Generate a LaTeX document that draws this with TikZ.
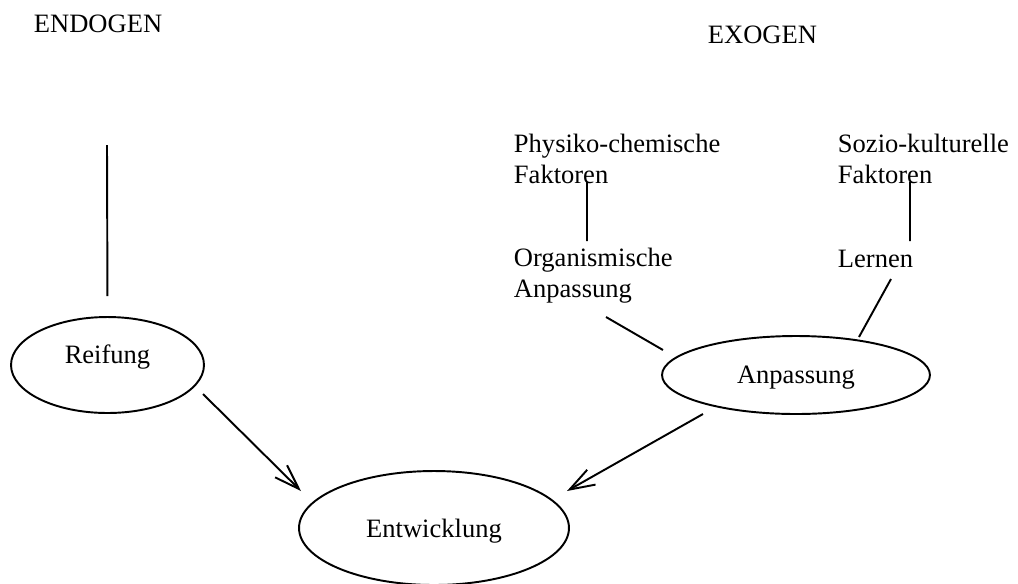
\documentclass[tikz,border=0pt]{standalone}
\usepackage{fontspec}
\setmainfont{Liberation Serif}
\usetikzlibrary{arrows.meta,shapes.geometric}
\begin{document}
\begin{tikzpicture}[x=.02cm,y=-.02cm,line width=1.1pt,
	txt/.style={font=\fontsize{15.1}{17.6}\selectfont,inner sep=0pt},
	oval/.style={txt,draw,ellipse,line width=1.1pt},
	pfeil/.style={-{Straight Barb[length=.5cm,width=.34cm]}}]
	\useasboundingbox (0,0) rectangle (1018,583);%rand
	\node[txt,anchor=base west] (endo) at (33,32) {ENDOGEN};
	\node[txt,anchor=base west] (exo) at (707,43) {EXOGEN};
	\node[txt,anchor=base west,align=left] (phys) at (513,183) {Physiko-chemische\\Faktoren};%basis = letzte zeile
	\node[txt,anchor=base west,align=left] (sozio) at (837,183) {Sozio-kulturelle\\Faktoren};
	\node[txt,anchor=base west,align=left] (orga) at (513,297) {Organismische\\Anpassung};
	\node[txt,anchor=base west] (lern) at (837,267) {Lernen};
	%ellipsen
	\node[oval,minimum width=3.86cm,minimum height=1.92cm,text height=.26cm,text depth=.34cm] (reif) at (107.5,365) {Reifung};
	\node[oval,minimum width=5.36cm,minimum height=1.56cm,text height=.4cm,text depth=.08cm] (anp) at (796,375) {Anpassung};
	\node[oval,minimum width=5.4cm,minimum height=2.28cm,text height=.44cm,text depth=.08cm] (entw) at (434,528) {Entwicklung};
	\path (107,145)coordinate(E1) (587,182)coordinate(P1) (587,241)coordinate(P2) (910,182)coordinate(S1) (910,241)coordinate(S2)
	(606,317)coordinate(O1) (663,350)coordinate(O2) (891,279)coordinate(L1) (859,337)coordinate(L2)
	(203,394)coordinate(R1) (301,491)coordinate(R2) (703,414)coordinate(A1) (567,491)coordinate(A2);
	\draw[shorten >=.4cm] (E1)--(reif.north);%endogen
	\draw (P1)--(P2) (S1)--(S2) (O1)--(O2) (L1)--(L2);
	\draw[pfeil] (R1)--(R2);
	\draw[pfeil] (A1)--(A2);
\end{tikzpicture}
\end{document}
